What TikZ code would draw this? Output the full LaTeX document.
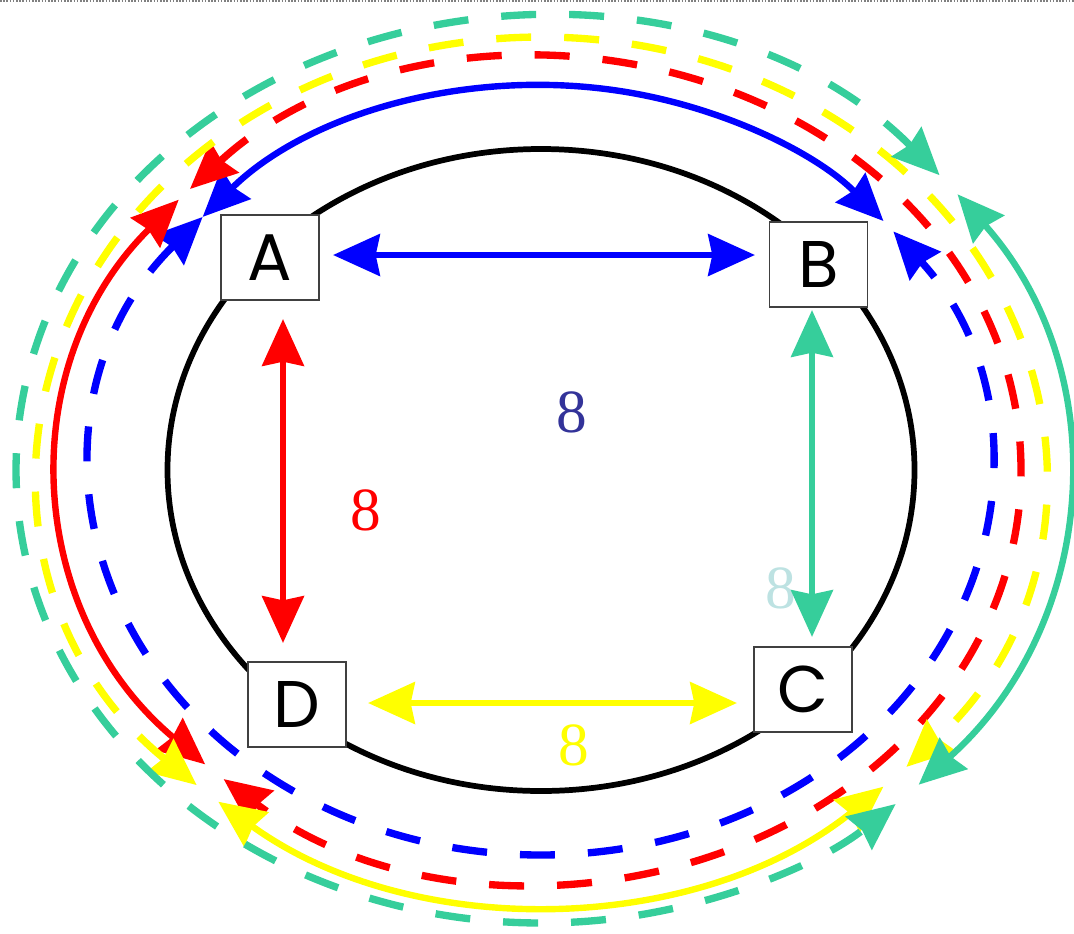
\documentclass[tikz,border=0pt]{standalone}
\usepackage{fontspec}
\usetikzlibrary{arrows.meta}
\newfontfamily\boxfont{Poppins}
\newfontfamily\numfont{Liberation Serif}
\definecolor{tealc}{RGB}{54,206,155}
\definecolor{bluec}{RGB}{0,0,255}
\definecolor{redc}{RGB}{255,0,0}
\definecolor{yellowc}{RGB}{255,255,0}
\definecolor{lblblue}{RGB}{51,51,153}
\definecolor{lblteal}{RGB}{189,226,226}
\tikzset{
  box/.style={draw=black!75, line width=1.1pt, fill=white, minimum width=73.5pt, minimum height=63.75pt, inner sep=0pt, font=\boxfont\fontsize{49.5}{50}\selectfont},
  num/.style={font=\numfont\fontsize{46}{48}\selectfont, inner sep=0pt},
  dbl/.style={line width=5.2pt, {Stealth[length=35pt,width=31pt,inset=3pt]}-{Stealth[length=35pt,width=31pt,inset=3pt]}},
  solidarc/.style={dbl, line width=4.8pt},
  dasharc/.style={dbl, line width=5.5pt, dash pattern=on 26.25pt off 24.75pt},
}
\begin{document}
\begin{tikzpicture}[x=0.75pt,y=-0.75pt]
\useasboundingbox (0,0) rectangle (1074,933);
\draw[gray, line width=1.2pt, dash pattern=on 1.2pt off 1.2pt] (0,1) -- (1074,1);
\coordinate (O) at (541,470);
% main ellipse
\draw[black, line width=4.3pt] (O) ellipse[x radius=373.5, y radius=321];
% boxes
\node[box] (A) at (270,257.5) {A};
\node[box] (B) at (818.5,264.5) {B};
\node[box] (C) at (803,689.5) {C};
\node[box] (D) at (297,704.5) {D};
% labels
\node[num, text=lblblue] (l1) at (572,412) {8};
\node[num, text=redc] (l2) at (366,510) {8};
\node[num, text=lblteal] (l3) at (781,588) {8};
\node[num, text=yellowc] (l4) at (574,745) {8};
% arc start points
\path (O) ++(-138.9:449 and 385) coordinate (bs);
\path (O) ++(-138.9:449 and 385) coordinate (bd);
\path (O) ++(-139:480 and 412) coordinate (rs);
\path (O) ++(-137:480 and 412) coordinate (rd);
\path (O) ++(-230:502 and 433) coordinate (ys);
\path (O) ++(-226.7:502 and 433) coordinate (yd);
\path (O) ++(-37.5:525 and 453) coordinate (ts);
\path (O) ++(-40.6:525 and 453) coordinate (td);
% blue arcs A-B
\draw[solidarc, bluec] (bs) arc[start angle=-138.9, end angle=-40.3, x radius=449, y radius=385];
\draw[dasharc, bluec] (bd) arc[start angle=-138.9, end angle=-398.3, x radius=449, y radius=385];
% red arcs A-D
\draw[solidarc, redc] (rs) arc[start angle=-139, end angle=-225.6, x radius=480, y radius=412];
\draw[dasharc, redc] (rd) arc[start angle=-137, end angle=131.4, x radius=480, y radius=412];
% yellow arcs D-C
\draw[solidarc, yellowc] (ys) arc[start angle=-230, end angle=-313, x radius=502, y radius=433];
\draw[dasharc, yellowc] (yd) arc[start angle=-226.7, end angle=43.3, x radius=502, y radius=433];
% teal arcs B-C
\draw[solidarc, tealc] (ts) arc[start angle=-37.5, end angle=44, x radius=525, y radius=453];
\draw[dasharc, tealc] (td) arc[start angle=-40.6, end angle=-312.5, x radius=525, y radius=453];
% straight arrows
\coordinate (ab1) at (333,255); \coordinate (ab2) at (755,255);
\coordinate (ad1) at (283,319); \coordinate (ad2) at (283,643);
\coordinate (bc1) at (812,310); \coordinate (bc2) at (812,637);
\coordinate (dc1) at (368,703); \coordinate (dc2) at (737,703);
\draw[dbl, bluec] (ab1) -- (ab2);
\draw[dbl, redc] (ad1) -- (ad2);
\draw[dbl, tealc] (bc1) -- (bc2);
\draw[dbl, yellowc] (dc1) -- (dc2);
\end{tikzpicture}
\end{document}
